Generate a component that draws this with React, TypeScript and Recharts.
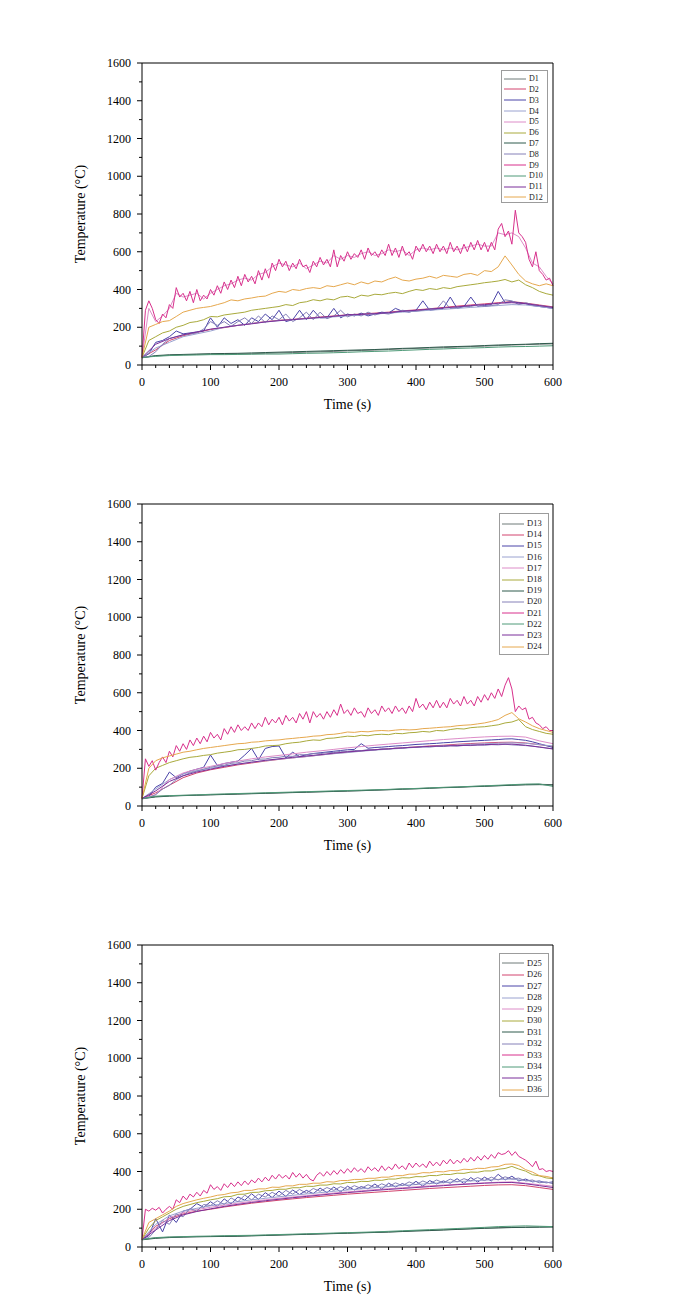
import React from 'react'
import { LineChart, Line, XAxis, YAxis, Legend } from 'recharts'

const FONT = '"Liberation Serif", "Times New Roman", serif'

// time grids (s)
const T5 = [
  0, 5, 10, 15, 20, 25, 30, 35, 40, 45,
  50, 55, 60, 65, 70, 75, 80, 85, 90, 95,
  100, 105, 110, 115, 120, 125, 130, 135, 140, 145,
  150, 155, 160, 165, 170, 175, 180, 185, 190, 195,
  200, 205, 210, 215, 220, 225, 230, 235, 240, 245,
  250, 255, 260, 265, 270, 275, 280, 285, 290, 295,
  300, 305, 310, 315, 320, 325, 330, 335, 340, 345,
  350, 355, 360, 365, 370, 375, 380, 385, 390, 395,
  400, 405, 410, 415, 420, 425, 430, 435, 440, 445,
  450, 455, 460, 465, 470, 475, 480, 485, 490, 495,
  500, 505, 510, 515, 520, 525, 530, 535, 540, 545,
  550, 555, 560, 565, 570, 575, 580, 585, 590, 595,
  600,
]
const T10 = [
  0, 10, 20, 30, 40, 50, 60, 70, 80, 90,
  100, 110, 120, 130, 140, 150, 160, 170, 180, 190,
  200, 210, 220, 230, 240, 250, 260, 270, 280, 290,
  300, 310, 320, 330, 340, 350, 360, 370, 380, 390,
  400, 410, 420, 430, 440, 450, 460, 470, 480, 490,
  500, 510, 520, 530, 540, 550, 560, 570, 580, 590,
  600,
]
const T20 = [
  0, 20, 40, 60, 80, 100, 120, 140, 160, 180,
  200, 220, 240, 260, 280, 300, 320, 340, 360, 380,
  400, 420, 440, 460, 480, 500, 520, 540, 560, 580,
  600,
]

const X_TICKS = [0, 20, 40, 60, 80, 100, 120, 140, 160, 180, 200, 220, 240, 260, 280, 300, 320, 340, 360, 380, 400, 420, 440, 460, 480, 500, 520, 540, 560, 580, 600]
const Y_TICKS = [0, 100, 200, 300, 400, 500, 600, 700, 800, 900, 1000, 1100, 1200, 1300, 1400, 1500, 1600]

// ---- panel 1 (°C)
const D1 = [40, 48, 52, 54, 56, 57, 58, 59, 60, 62, 64, 66, 68, 70, 72, 75, 77, 79, 82, 85, 88, 90, 92, 95, 98, 100, 103, 106, 108, 110, 112]
const D2 = [40, 80, 130, 155, 172, 188, 198, 210, 220, 230, 237, 242, 248, 254, 260, 266, 270, 275, 280, 287, 292, 298, 305, 312, 318, 324, 330, 336, 328, 318, 308]
const D3 = [
  40, 60, 120, 130, 150, 180, 165, 170, 175, 180,
  250, 200, 250, 220, 240, 210, 250, 230, 270, 240,
  290, 230, 240, 290, 240, 290, 250, 250, 300, 250,
  270, 260, 275, 260, 270, 280, 275, 300, 285, 280,
  290, 340, 290, 295, 300, 360, 300, 310, 360, 310,
  315, 320, 390, 330, 335, 330, 325, 315, 310, 305,
  300,
]
const D4 = [40, 90, 120, 150, 165, 180, 200, 210, 220, 228, 235, 240, 245, 250, 255, 260, 265, 270, 275, 280, 285, 290, 295, 300, 305, 310, 315, 320, 318, 310, 300]
const D5 = [
  40, 300, 230, 260, 300, 380, 360, 370, 380, 350,
  380, 400, 420, 430, 450, 460, 450, 480, 490, 520,
  540, 530, 520, 540, 510, 530, 550, 540, 580, 560,
  580, 570, 590, 600, 580, 590, 610, 600, 610, 580,
  610, 620, 610, 620, 610, 620, 610, 620, 630, 640,
  630, 630, 700, 690, 700, 680, 620, 540, 520, 470,
  430,
]
const D6 = [
  40, 130, 150, 170, 180, 200, 210, 225, 230, 240,
  257, 255, 265, 270, 275, 280, 290, 295, 300, 305,
  310, 320, 315, 330, 335, 346, 340, 350, 345, 360,
  364, 355, 370, 365, 375, 372, 380, 385, 378, 390,
  400, 395, 405, 400, 410, 405, 415, 420, 425, 430,
  436, 440, 445, 453, 440, 450, 425, 410, 390, 378,
  370,
]
const D7 = [38, 50, 54, 56, 58, 60, 61, 62, 64, 66, 68, 70, 72, 74, 76, 78, 80, 82, 85, 88, 90, 93, 96, 98, 100, 103, 106, 108, 110, 113, 115]
const D8 = [
  40, 45, 70, 110, 140, 150, 160, 165, 170, 190,
  230, 210, 230, 205, 230, 250, 220, 260, 225, 260,
  240, 270, 230, 250, 280, 240, 280, 245, 260, 290,
  255, 270, 260, 280, 265, 275, 270, 280, 290, 285,
  285, 290, 300, 295, 340, 300, 305, 310, 310, 320,
  310, 315, 320, 345, 340, 320, 330, 320, 315, 310,
  305,
]
const D9 = [
  40, 290, 340, 300, 240, 220, 270, 250, 320, 300,
  410, 360, 380, 340, 390, 330, 400, 340, 370, 350,
  400, 370, 420, 380, 440, 400, 450, 410, 470, 420,
  480, 440, 470, 430, 500, 450, 510, 460, 540, 500,
  560, 520, 550, 500, 540, 510, 560, 520, 530, 490,
  550, 520, 570, 530, 560, 520, 610, 520, 580, 550,
  600, 560, 590, 570, 610, 560, 620, 580, 600, 570,
  610, 580, 640, 580, 620, 570, 630, 580, 600, 560,
  630, 600, 640, 600, 630, 590, 640, 600, 630, 590,
  650, 600, 630, 590, 640, 600, 650, 610, 660, 610,
  650, 600, 650, 610, 720, 750, 680, 710, 640, 820,
  700, 680, 650, 560, 520, 600, 500, 480, 450, 460,
  420,
]
const D10 = [40, 46, 50, 52, 53, 55, 55, 56, 57, 58, 58, 60, 62, 63, 65, 67, 70, 72, 74, 77, 80, 83, 85, 88, 90, 92, 95, 97, 98, 100, 102]
const D11 = [40, 110, 140, 160, 175, 190, 200, 210, 218, 228, 235, 240, 246, 252, 258, 265, 268, 272, 277, 285, 290, 296, 302, 308, 315, 320, 327, 330, 325, 315, 305]
const D12 = [
  40, 200, 215, 230, 235, 257, 280, 290, 300, 305,
  310, 320, 330, 345, 340, 350, 355, 362, 365, 380,
  390, 385, 400, 395, 405, 410, 405, 420, 415, 425,
  435, 425, 440, 430, 445, 440, 455, 466, 450, 445,
  455, 460, 470, 460, 475, 470, 465, 480, 485, 475,
  500, 495, 520, 578, 530, 480, 445, 430, 420, 430,
  420,
]

// ---- panel 2
const D13 = [40, 50, 54, 56, 58, 60, 62, 64, 66, 68, 70, 72, 74, 76, 78, 80, 82, 84, 87, 90, 92, 95, 98, 100, 103, 106, 108, 111, 114, 115, 113]
const D14 = [40, 70, 110, 150, 175, 192, 205, 218, 228, 238, 247, 255, 262, 270, 278, 285, 292, 298, 303, 308, 313, 318, 322, 327, 331, 334, 337, 338, 334, 325, 315]
const D15 = [
  40, 50, 100, 120, 180, 150, 170, 185, 195, 205,
  270, 215, 225, 232, 238, 270, 305, 245, 305, 315,
  318, 255, 285, 262, 272, 278, 282, 286, 290, 294,
  298, 300, 330, 306, 310, 312, 315, 318, 320, 323,
  326, 328, 330, 332, 335, 337, 340, 342, 344, 346,
  348, 350, 352, 355, 356, 352, 348, 340, 330, 320,
  310,
]
const D16 = [40, 90, 140, 170, 188, 200, 212, 222, 232, 240, 248, 255, 262, 270, 277, 283, 290, 296, 301, 306, 311, 315, 319, 323, 327, 330, 333, 335, 332, 325, 318]
const D17 = [40, 60, 140, 175, 195, 210, 225, 238, 250, 260, 268, 276, 285, 292, 300, 308, 315, 322, 328, 334, 340, 346, 352, 357, 362, 366, 369, 370, 365, 345, 330]
const D18 = [
  40, 160, 200, 215, 230, 240, 250, 258, 262, 268,
  272, 280, 285, 290, 298, 300, 305, 310, 318, 320,
  322, 330, 335, 338, 345, 350, 348, 358, 360, 365,
  370, 368, 375, 372, 378, 380, 378, 385, 383, 388,
  390, 395, 392, 400, 398, 405, 410, 408, 415, 418,
  420, 425, 430, 440, 445, 458, 420, 405, 395, 385,
  380,
]
const D19 = [38, 48, 52, 55, 57, 59, 61, 63, 65, 67, 69, 71, 73, 75, 77, 79, 81, 84, 86, 89, 91, 94, 97, 99, 102, 104, 107, 110, 112, 113, 111]
const D20 = [
  40, 45, 60, 90, 110, 140, 160, 175, 185, 195,
  205, 212, 216, 226, 229, 238, 240, 248, 249, 256,
  258, 264, 263, 272, 271, 278, 277, 284, 283, 290,
  289, 294, 293, 299, 297, 303, 301, 307, 305, 311,
  310, 314, 312, 316, 315, 319, 317, 321, 320, 323,
  322, 325, 324, 327, 324, 322, 320, 317, 313, 308,
  303,
]
const D21 = [
  40, 250, 210, 240, 190, 230, 260, 230, 290, 260,
  320, 290, 330, 300, 350, 320, 360, 330, 370, 340,
  390, 360, 380, 350, 410, 380, 420, 390, 430, 400,
  420, 400, 440, 410, 440, 420, 470, 430, 460, 440,
  470, 430, 480, 450, 470, 440, 490, 460, 500, 440,
  500, 470, 490, 460, 500, 470, 510, 480, 540, 490,
  510, 480, 520, 490, 500, 470, 520, 490, 510, 480,
  530, 500, 520, 490, 530, 500, 520, 490, 530, 500,
  570, 520, 540, 510, 550, 520, 560, 520, 550, 520,
  570, 540, 560, 530, 580, 540, 560, 530, 580, 550,
  590, 560, 600, 570, 620, 580, 640, 680, 620, 500,
  530, 510, 520, 460, 470, 440, 430, 410, 420, 400,
  400,
]
const D22 = [40, 52, 55, 57, 59, 62, 64, 66, 68, 70, 72, 74, 76, 78, 80, 82, 84, 86, 88, 91, 93, 96, 99, 101, 104, 107, 110, 113, 116, 117, 104]
const D23 = [40, 80, 130, 160, 180, 195, 210, 222, 232, 242, 250, 258, 265, 272, 280, 287, 292, 298, 303, 308, 312, 316, 318, 320, 322, 325, 327, 328, 322, 312, 302]
const D24 = [
  40, 200, 240, 255, 265, 275, 285, 290, 298, 305,
  310, 315, 320, 325, 330, 332, 338, 340, 345, 348,
  350, 355, 358, 362, 365, 370, 372, 378, 380, 385,
  392, 390, 395, 393, 398, 400, 398, 402, 405, 403,
  405, 410, 412, 415, 418, 420, 425, 428, 430, 435,
  440, 448, 458, 480, 495, 462, 445, 425, 410, 400,
  390,
]

// ---- panel 3
const D25 = [40, 48, 52, 54, 55, 56, 57, 58, 60, 62, 64, 66, 68, 70, 72, 74, 76, 78, 80, 83, 86, 88, 91, 94, 97, 100, 102, 104, 105, 106, 107]
const D26 = [40, 110, 150, 175, 190, 200, 212, 222, 232, 240, 248, 255, 262, 268, 274, 280, 285, 290, 295, 300, 305, 310, 314, 318, 322, 326, 329, 330, 325, 315, 305]
const D27 = [
  40, 60, 150, 80, 170, 130, 190, 200, 230, 210,
  240, 215, 255, 228, 265, 248, 282, 252, 288, 262,
  296, 268, 302, 278, 300, 283, 312, 288, 318, 292,
  322, 302, 320, 308, 334, 306, 338, 318, 336, 322,
  348, 322, 352, 334, 350, 338, 362, 336, 368, 344,
  370, 350, 385, 355, 375, 350, 360, 345, 350, 340,
  345,
]
const D28 = [40, 120, 165, 190, 205, 218, 230, 240, 250, 258, 266, 274, 281, 288, 295, 302, 308, 314, 320, 326, 331, 336, 341, 346, 350, 354, 358, 360, 352, 345, 340]
const D29 = [40, 100, 155, 182, 198, 210, 222, 232, 242, 250, 258, 265, 272, 279, 286, 292, 298, 304, 309, 314, 319, 324, 328, 332, 336, 340, 343, 345, 338, 330, 322]
const D30 = [
  40, 100, 140, 160, 180, 200, 215, 225, 235, 242,
  250, 256, 266, 268, 279, 280, 289, 290, 298, 300,
  306, 306, 314, 314, 322, 321, 328, 328, 335, 334,
  342, 341, 348, 347, 354, 353, 360, 360, 367, 366,
  373, 372, 379, 378, 385, 384, 391, 390, 397, 396,
  403, 403, 412, 416, 427, 413, 402, 383, 377, 366,
  362,
]
const D31 = [38, 46, 50, 52, 54, 55, 56, 57, 59, 61, 63, 65, 67, 69, 71, 73, 75, 77, 79, 82, 85, 87, 90, 93, 96, 99, 101, 103, 104, 105, 106]
const D32 = [
  40, 50, 90, 140, 120, 175, 160, 205, 190, 225,
  220, 245, 225, 260, 240, 275, 250, 280, 265, 290,
  270, 300, 280, 305, 285, 310, 295, 315, 300, 320,
  305, 325, 310, 330, 315, 335, 320, 340, 325, 345,
  330, 350, 335, 355, 340, 360, 345, 362, 350, 368,
  352, 370, 355, 372, 360, 365, 350, 355, 340, 345,
  335,
]
const D33 = [
  40, 200, 190, 205, 195, 210, 180, 200, 215, 200,
  250, 235, 270, 250, 280, 265, 290, 270, 300, 285,
  330, 305, 320, 300, 335, 315, 340, 320, 345, 325,
  350, 330, 355, 340, 365, 345, 370, 350, 380, 360,
  385, 365, 380, 360, 395, 370, 390, 365, 385, 360,
  350, 380, 395, 375, 400, 380, 405, 385, 410, 390,
  415, 395, 420, 400, 415, 395, 425, 405, 420, 400,
  430, 405, 425, 410, 440, 415, 430, 410, 445, 420,
  445, 425, 440, 420, 455, 430, 450, 430, 460, 440,
  465, 440, 460, 445, 470, 450, 475, 455, 480, 460,
  485, 465, 490, 470, 500, 490, 495, 510, 485, 505,
  480, 470, 460, 445, 425, 455, 410, 415, 400, 405,
  400,
]
const D34 = [40, 50, 53, 55, 57, 58, 60, 61, 62, 64, 66, 68, 70, 72, 74, 76, 78, 80, 83, 86, 89, 92, 95, 98, 101, 104, 108, 110, 112, 110, 108]
const D35 = [40, 90, 140, 170, 188, 202, 215, 226, 236, 245, 253, 261, 268, 275, 282, 288, 294, 300, 305, 310, 315, 320, 325, 330, 334, 338, 341, 342, 335, 325, 315]
const D36 = [
  40, 130, 150, 170, 190, 215, 230, 240, 250, 258,
  265, 274, 278, 287, 290, 300, 300, 308, 308, 317,
  316, 324, 324, 332, 332, 338, 338, 346, 344, 352,
  352, 358, 358, 364, 364, 370, 370, 378, 378, 386,
  386, 394, 393, 400, 398, 405, 404, 412, 410, 417,
  416, 424, 426, 438, 440, 432, 410, 397, 378, 374,
  366,
]

// colour by position inside each group of twelve
const COLORS = [
  '#6e7a78', '#d2456e', '#4a44a8', '#9aa2d0', '#dd8cc8', '#a9aa3c',
  '#2f5a4c', '#8580b8', '#d8308c', '#4f9a78', '#7a2f9a', '#e6a84e',
]

type Src = [string, number[], number[]]

const PANELS: Src[][] = [
  [
    ['D1', T20, D1], ['D2', T20, D2], ['D3', T10, D3], ['D4', T20, D4],
    ['D5', T10, D5], ['D6', T10, D6], ['D7', T20, D7], ['D8', T10, D8],
    ['D9', T5, D9], ['D10', T20, D10], ['D11', T20, D11], ['D12', T10, D12],
  ],
  [
    ['D13', T20, D13], ['D14', T20, D14], ['D15', T10, D15], ['D16', T20, D16],
    ['D17', T20, D17], ['D18', T10, D18], ['D19', T20, D19], ['D20', T10, D20],
    ['D21', T5, D21], ['D22', T20, D22], ['D23', T20, D23], ['D24', T10, D24],
  ],
  [
    ['D25', T20, D25], ['D26', T20, D26], ['D27', T10, D27], ['D28', T20, D28],
    ['D29', T20, D29], ['D30', T10, D30], ['D31', T20, D31], ['D32', T10, D32],
    ['D33', T5, D33], ['D34', T20, D34], ['D35', T20, D35], ['D36', T10, D36],
  ],
]

// legend box placement per panel (chart px)
const LEGEND_BOX = [
  { left: 493, top: 62, width: 47, height: 133, pad: 2.3, row: 10.8, font: 8 },
  { left: 491, top: 64, width: 50, height: 142, pad: 4, row: 11.2, font: 8.5 },
  { left: 491, top: 63, width: 50, height: 144, pad: 3.3, row: 11.5, font: 8.5 },
]

function BottomTick({ x, y, payload }: any) {
  const major = payload.value % 100 === 0
  return (
    <g>
      <line x1={x} y1={y} x2={x} y2={y + (major ? 5 : 3)} stroke="#000" strokeWidth={1} />
      {major && (
        <text x={x} y={y + 21} textAnchor="middle" fontSize={12} fontFamily={FONT} fill="#000">
          {payload.value}
        </text>
      )}
    </g>
  )
}

function TopTick({ x, y, payload }: any) {
  const major = payload.value % 100 === 0
  return <line x1={x} y1={y} x2={x} y2={y + (major ? 5 : 3)} stroke="#000" strokeWidth={1} />
}

function LeftTick({ x, y, payload }: any) {
  const major = payload.value % 200 === 0
  return (
    <g>
      <line x1={x} y1={y} x2={x - (major ? 5 : 3)} y2={y} stroke="#000" strokeWidth={1} />
      {major && (
        <text x={x - 11} y={y} dy="0.35em" textAnchor="end" fontSize={12} fontFamily={FONT} fill="#000">
          {payload.value}
        </text>
      )}
    </g>
  )
}

function RightTick({ x, y, payload }: any) {
  const major = payload.value % 200 === 0
  return <line x1={x} y1={y} x2={x - (major ? 5 : 3)} y2={y} stroke="#000" strokeWidth={1} />
}

function XTitle(props: any) {
  const vb = props.viewBox || { x: 134, y: 357, width: 411 }
  return (
    <text x={vb.x + vb.width / 2} y={vb.y + 44} textAnchor="middle" fontSize={14} fontFamily={FONT} fill="#000">
      Time (s)
    </text>
  )
}

function YTitle(props: any) {
  const vb = props.viewBox || { x: 0, y: 55, height: 302 }
  const cx = vb.x + 72
  const cy = vb.y + vb.height / 2
  return (
    <text
      x={cx} y={cy} dy="0.35em" textAnchor="middle" fontSize={14} fontFamily={FONT} fill="#000"
      transform={`rotate(-90, ${cx}, ${cy})`}
    >
      Temperature (°C)
    </text>
  )
}

type LegendCfg = (typeof LEGEND_BOX)[number]

function LegendBox({ series, cfg }: { series: { name: string; color: string }[]; cfg: LegendCfg }) {
  return (
    <div
      style={{
        width: cfg.width, height: cfg.height, boxSizing: 'border-box', border: '1px solid #9c9c9c',
        background: '#fff', paddingTop: cfg.pad, fontFamily: FONT, fontSize: cfg.font, color: '#222',
      }}
    >
      {series.map(s => (
        <div key={s.name} style={{ display: 'flex', alignItems: 'center', height: cfg.row }}>
          <svg width={25} height={4} style={{ marginLeft: 2, flex: 'none' }}>
            <line x1={0} y1={2} x2={22} y2={2} stroke={s.color} strokeWidth={1} />
          </svg>
          <span style={{ lineHeight: '9px' }}>{s.name}</span>
        </div>
      ))}
    </div>
  )
}

function Panel({ src, cfg }: { src: Src[]; cfg: LegendCfg }) {
  const series = src.map(([name, t, v], i) => ({
    name,
    color: COLORS[i],
    data: t.map((x, j) => ({ t: x, v: v[j] })),
  }))

  return (
    <LineChart width={600} height={441} margin={{ top: 55, right: 55, bottom: 54, left: 0 }}>
      <XAxis
        type="number" dataKey="t" domain={[0, 600]} ticks={X_TICKS} interval={0}
        tickSize={0} tickMargin={0} tickLine={false} tick={BottomTick}
        axisLine={{ stroke: '#000', strokeWidth: 1 }} height={30} label={XTitle}
      />
      <XAxis
        xAxisId="top" orientation="top" mirror type="number" domain={[0, 600]} ticks={X_TICKS}
        interval={0} tickSize={0} tickMargin={0} tickLine={false} tick={TopTick}
        axisLine={{ stroke: '#000', strokeWidth: 1 }}
      />
      <YAxis
        type="number" domain={[0, 1600]} ticks={Y_TICKS} interval={0} width={134}
        tickSize={0} tickMargin={0} tickLine={false} tick={LeftTick}
        axisLine={{ stroke: '#000', strokeWidth: 1 }} label={YTitle}
      />
      <YAxis
        yAxisId="right" orientation="right" mirror type="number" domain={[0, 1600]} ticks={Y_TICKS}
        interval={0} tickSize={0} tickMargin={0} tickLine={false} tick={RightTick}
        axisLine={{ stroke: '#000', strokeWidth: 1 }}
      />
      <Legend
        layout="vertical" align="center" verticalAlign="middle"
        wrapperStyle={{ left: cfg.left, top: cfg.top, width: cfg.width, height: cfg.height }}
        content={() => <LegendBox series={series} cfg={cfg} />}
      />
      {series.map(s => (
        <Line
          key={s.name}
          data={s.data}
          dataKey="v"
          name={s.name}
          type="linear"
          stroke={s.color}
          strokeWidth={1}
          dot={false}
          activeDot={false}
          isAnimationActive={false}
        />
      ))}
    </LineChart>
  )
}

export default function App() {
  return (
    <div style={{ width: 600 }}>
      {PANELS.map((src, i) => (
        <Panel key={i} src={src} cfg={LEGEND_BOX[i]} />
      ))}
    </div>
  )
}
